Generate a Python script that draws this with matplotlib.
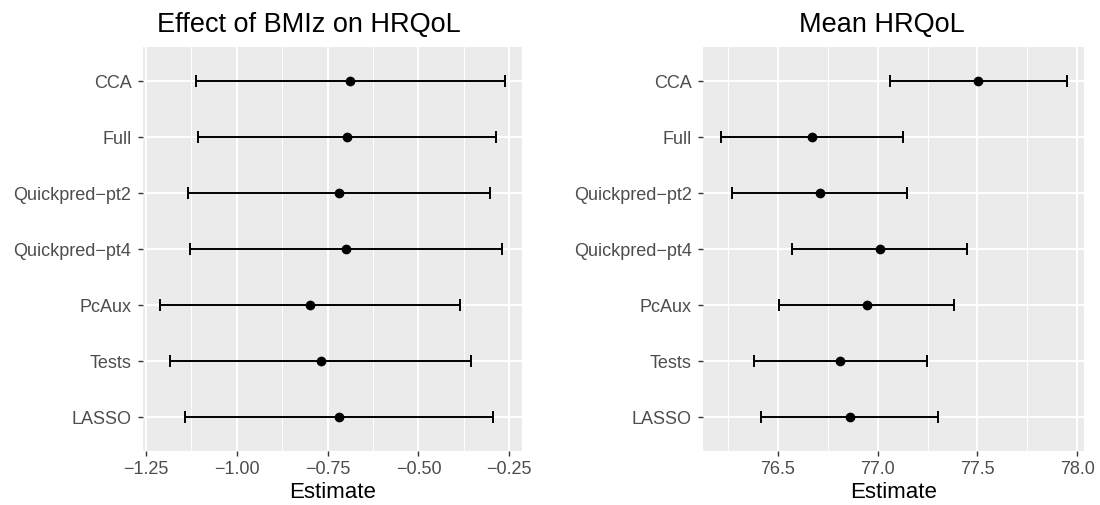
import numpy as np
import matplotlib.pyplot as plt
from matplotlib.ticker import FixedLocator

plt.rcParams['font.family'] = ['Liberation Sans', 'DejaVu Sans']

methods = ["CCA", "Full", "Quickpred\u2212pt2", "Quickpred\u2212pt4", "PcAux", "Tests", "LASSO"]

# effect of BMIz on HRQoL
bmi_est = [-0.688, -0.697, -0.720, -0.699, -0.798, -0.769, -0.720]
bmi_lo = [-1.112, -1.106, -1.135, -1.129, -1.211, -1.184, -1.144]
bmi_hi = [-0.263, -0.287, -0.304, -0.270, -0.385, -0.354, -0.296]
bmi_ticks = [-1.25, -1.00, -0.75, -0.50, -0.25]
bmi_ticklabels = ["\u22121.25", "\u22121.00", "\u22120.75", "\u22120.50", "\u22120.25"]

# mean HRQoL
mean_est = [77.505, 76.671, 76.709, 77.011, 76.945, 76.813, 76.860]
mean_lo = [77.063, 76.213, 76.271, 76.570, 76.505, 76.380, 76.415]
mean_hi = [77.948, 77.128, 77.149, 77.449, 77.384, 77.245, 77.301]
mean_ticks = [76.5, 77.0, 77.5, 78.0]
mean_ticklabels = ["76.5", "77.0", "77.5", "78.0"]

fig = plt.figure(figsize=(11, 5.06), dpi=100)
ax1 = fig.add_axes([0.130, 0.1075, 0.3443, 0.797])
ax2 = fig.add_axes([0.6394, 0.1075, 0.3461, 0.797])


def panel(ax, est, lo, hi, ticks, ticklabels, title, title_x):
    n = len(methods)
    y = np.arange(n)[::-1]
    est = np.array(est)
    lo = np.array(lo)
    hi = np.array(hi)
    ax.set_facecolor('#EBEBEB')
    ax.errorbar(est, y, xerr=[est - lo, hi - est], fmt='o', color='black',
                ecolor='black', elinewidth=1.4, capsize=4, capthick=1.4,
                markersize=6, zorder=3)
    rng = hi.max() - lo.min()
    ax.set_xlim(lo.min() - 0.05 * rng, hi.max() + 0.05 * rng)
    ax.set_ylim(-0.6, n - 1 + 0.6)
    ax.set_yticks(y)
    ax.set_yticklabels(methods)
    ax.set_xticks(ticks)
    ax.set_xticklabels(ticklabels)
    step = ticks[1] - ticks[0]
    minors = [ticks[0] - step / 2] + [t + step / 2 for t in ticks]
    ax.xaxis.set_minor_locator(FixedLocator(minors))
    ax.grid(which='major', color='white', linewidth=1.4)
    ax.grid(which='minor', axis='x', color='white', linewidth=0.7)
    ax.set_axisbelow(True)
    for s in ax.spines.values():
        s.set_visible(False)
    ax.tick_params(which='major', length=3.8, width=1, color='#333333',
                   labelcolor='#4D4D4D', labelsize=13)
    ax.tick_params(axis='y', pad=4.5)
    ax.tick_params(axis='x', pad=3)
    ax.tick_params(which='minor', length=0)
    ax.set_xlabel("Estimate", fontsize=16, color='black', labelpad=3)
    ax.set_title(title, fontsize=19.5, color='black', pad=11.5, x=title_x)


panel(ax1, bmi_est, bmi_lo, bmi_hi, bmi_ticks, bmi_ticklabels, "Effect of BMIz on HRQoL", 0.438)
panel(ax2, mean_est, mean_lo, mean_hi, mean_ticks, mean_ticklabels, "Mean HRQoL", 0.469)

fig.savefig("out.png", dpi=100, facecolor='white')
